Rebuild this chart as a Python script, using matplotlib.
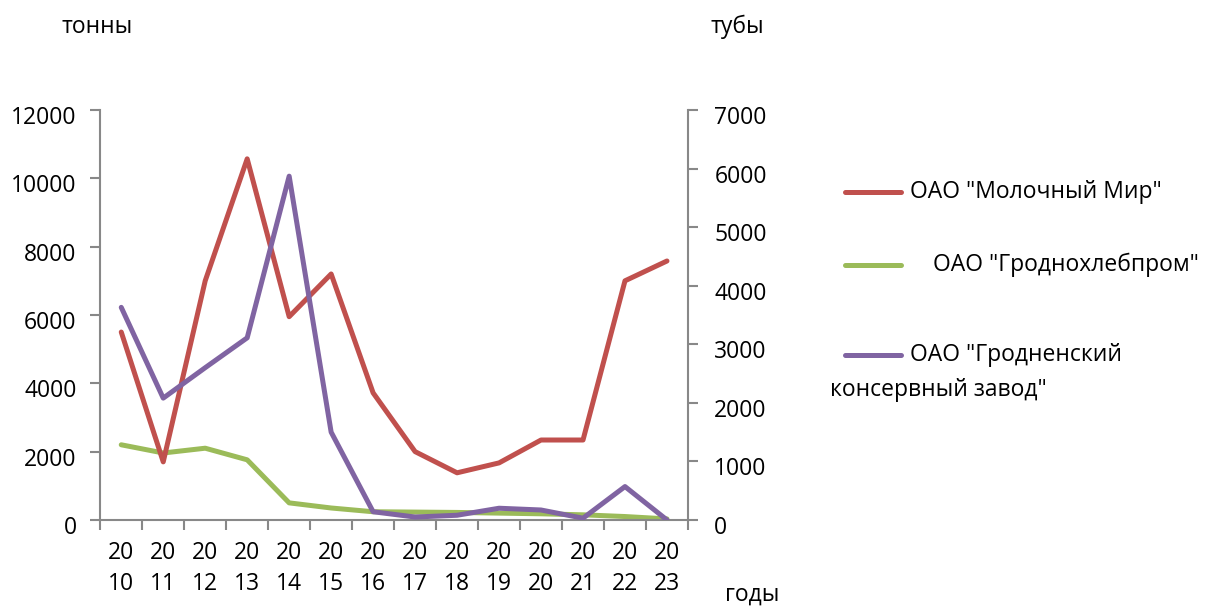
import matplotlib
matplotlib.use("Agg")
import matplotlib.pyplot as plt
import matplotlib.transforms as mtrans
import numpy as np
from matplotlib.lines import Line2D

plt.rcParams['font.family'] = ['Open Sans', 'DejaVu Sans']

years = [str(y) for y in range(2010, 2024)]
milk = [5500, 1700, 7000, 10570, 5950, 7200, 3720, 2000, 1380, 1670, 2340, 2340, 7000, 7580]
bread = [2200, 1960, 2100, 1760, 500, 350, 240, 230, 220, 200, 180, 150, 100, 30]
cans = [3630, 2080, 2600, 3110, 5870, 1500, 140, 50, 80, 200, 170, 30, 570, 0]

labels = ['ОАО "Молочный Мир"', 'ОАО "Гроднохлебпром"',
          'ОАО "Гродненский\nконсервный завод"']
colors = ['#c0504d', '#9bbb59', '#8064a2']
fs = 16.5

fig = plt.figure(figsize=(12.08, 6.06), dpi=100)
ax = fig.add_axes([0.083, 0.142, 0.4865, 0.6765])
ax2 = ax.twinx()

x = np.arange(len(years))
lw = 3.6
ax.plot(x, milk, color=colors[0], lw=lw, solid_capstyle='round', zorder=3)
ax.plot(x, bread, color=colors[1], lw=lw, solid_capstyle='round', zorder=2)
ax2.plot(x, cans, color=colors[2], lw=lw, solid_capstyle='round', zorder=4)

ax.set_xlim(-0.5, len(years) - 0.5)
ax.set_ylim(0, 12000)
ax2.set_ylim(0, 7000)
ax.set_yticks(range(0, 12001, 2000))
ax2.set_yticks(range(0, 7001, 1000))

ax.set_xticks(x)
ax.set_xticklabels([y[:2] + "\n" + y[2:] for y in years], linespacing=1.38)
ax.set_xticks(np.arange(-0.5, len(years)), minor=True)
ax.tick_params(axis='x', which='major', length=0, labelsize=fs, pad=15)
ax.tick_params(axis='x', which='minor', length=7, width=1.5, color='#888888')

gray = '#888888'
for a in (ax, ax2):
    for s in a.spines.values():
        s.set_visible(False)
ax.spines['left'].set_visible(True)
ax.spines['bottom'].set_visible(True)
ax2.spines['right'].set_visible(True)
for s in (ax.spines['left'], ax.spines['bottom'], ax2.spines['right']):
    s.set_color(gray)
    s.set_linewidth(1.5)
ax.tick_params(axis='y', length=7, width=1.5, color=gray, labelsize=fs, pad=10)
ax2.tick_params(axis='y', length=7, width=1.5, color=gray, labelsize=fs, pad=12)

shift = mtrans.ScaledTranslation(0, -5 / 100, fig.dpi_scale_trans)
for lab in ax.get_yticklabels() + ax2.get_yticklabels():
    lab.set_transform(lab.get_transform() + shift)

fig.text(0.051, 0.955, 'тонны', fontsize=fs, va='center')
fig.text(0.588, 0.955, 'тубы', fontsize=fs, va='center')
fig.text(0.600, 0.018, 'годы', fontsize=fs, va='center')

# legend drawn by hand to mimic offsets
leg_y = [192, 265, 355]
for i in range(3):
    yy = 1 - leg_y[i] / 606
    fig.add_artist(Line2D([845 / 1208, 901 / 1208], [yy, yy], color=colors[i],
                          lw=lw, solid_capstyle='round', transform=fig.transFigure))
fig.text(910 / 1208, 1 - 192 / 606, labels[0], fontsize=fs, va='center')
fig.text(933 / 1208, 1 - 265 / 606, labels[1], fontsize=fs, va='center')
fig.text(910 / 1208, 1 - 355 / 606, labels[2].split("\n")[0], fontsize=fs, va='center')
fig.text(830 / 1208, 1 - 390 / 606, labels[2].split("\n")[1], fontsize=fs, va='center')

fig.savefig("out.png", dpi=100)
